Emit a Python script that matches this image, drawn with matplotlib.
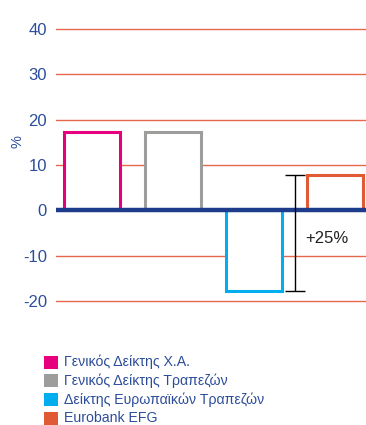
import matplotlib
matplotlib.use("Agg")
import matplotlib.pyplot as plt
from matplotlib.patches import Rectangle

plt.rcParams['font.family'] = ['Liberation Sans', 'DejaVu Sans']

# Annual change, %
labels = ['Γενικός Δείκτης Χ.Α.', 'Γενικός Δείκτης Τραπεζών',
          'Δείκτης Ευρωπαϊκών Τραπεζών', 'Eurobank EFG']
values = [17.2, 17.2, -17.7, 7.7]
colors = ['#e6007e', '#9d9d9c', '#00aeef', '#e05a35']
yticks = [-20, -10, 0, 10, 20, 30, 40]
spread_label = '+25%'

W, H = 366, 425
fig = plt.figure(figsize=(W / 100, H / 100), dpi=100)
ax = fig.add_axes([56 / W, 1 - 305.5 / H, 310 / W, 281 / H])

ax.set_ylim(-21, 41)
ax.set_xlim(-0.444, 3.383)

# gridlines
for t in yticks:
    if t != 0:
        ax.axhline(t, color='#e6684a', lw=1.0, zorder=1)

x = list(range(len(values)))
ax.bar(x, values, width=0.69, facecolor='white', edgecolor=colors,
       linewidth=2.2, zorder=2)

ax.axhline(0, color='#1d3c8c', lw=3.2, zorder=3)

# spread between Eurobank EFG and the European bank index
ax.errorbar(2.506, (values[3] + values[2]) / 2,
            yerr=(values[3] - values[2]) / 2, color='black', lw=1.0,
            capsize=7, capthick=1.0, zorder=4)
ax.text(2.635, -6.2, spread_label, fontsize=12, color='#222222',
        va='center', ha='left')

ax.set_yticks(yticks)
ax.set_yticklabels([str(t) for t in yticks], fontsize=12, color='#2c4d9a')
ax.tick_params(axis='y', length=0, pad=6.5)
ax.tick_params(axis='x', bottom=False, labelbottom=False)
for s in ax.spines.values():
    s.set_visible(False)

fig.text(18 / W, 1 - 142 / H, '%', rotation=90, fontsize=10.5,
         color='#2c4d9a', ha='center', va='center')

# legend
for i, (lab, c) in enumerate(zip(labels, colors)):
    yc = 362 + i * 18.7
    fig.patches.append(Rectangle((44 / W, 1 - (yc + 6.5) / H), 14 / W,
                                 13 / H, transform=fig.transFigure,
                                 facecolor=c, edgecolor='none'))
    fig.text(64 / W, 1 - yc / H, lab, fontsize=10.2, color='#2c4d9a',
             ha='left', va='center')

fig.savefig('out.png', dpi=100)
